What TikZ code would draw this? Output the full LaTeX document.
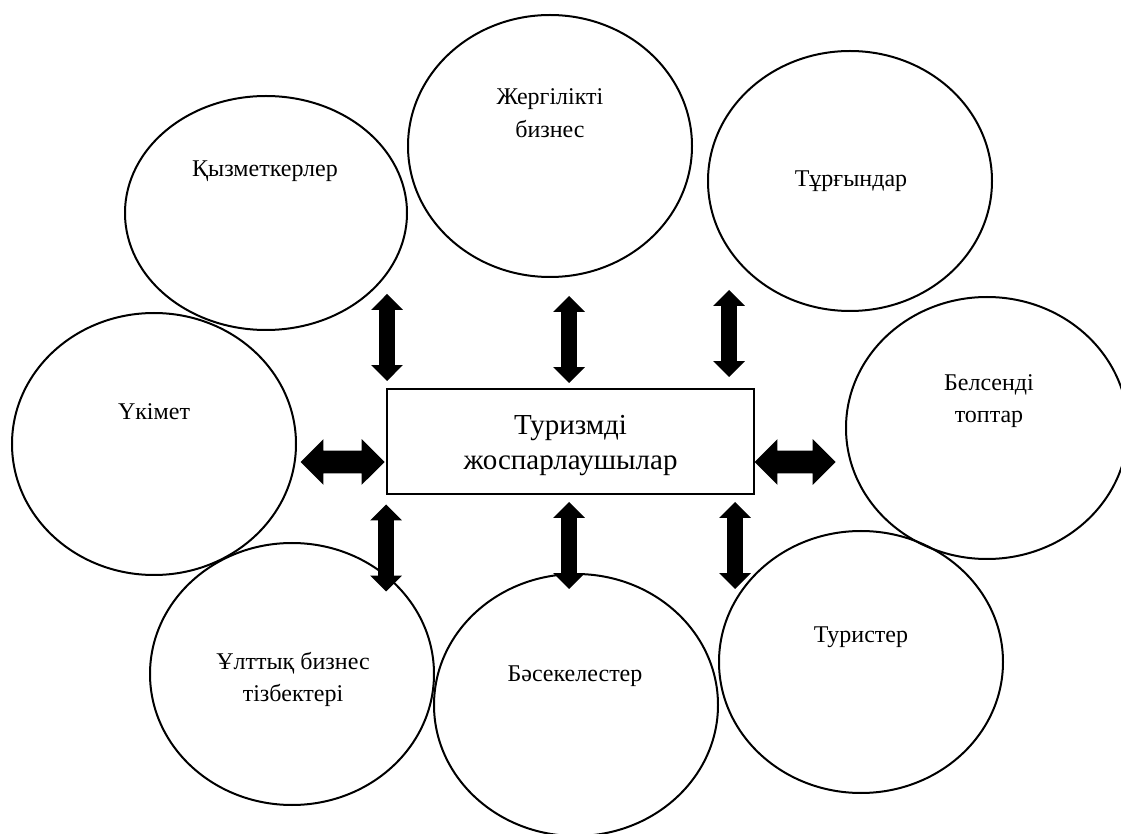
\documentclass[tikz,border=0pt]{standalone}
\usepackage{fontspec}
\setmainfont{Liberation Serif}
\usepackage{tikz}
\usetikzlibrary{shapes.geometric,shapes.arrows}
\tikzset{
  party/.style={draw,ellipse,line width=1pt,inner sep=0pt,minimum width=142pt,minimum height=131pt},
  partytext/.style={align=center,inner sep=0pt,anchor=base,font=\fontsize{12pt}{16.5pt}\selectfont},
  hub/.style={draw,rectangle,line width=1pt,minimum width=183.5pt,minimum height=52.5pt},
  hubtext/.style={align=center,inner sep=0pt,anchor=base,font=\fontsize{14.5pt}{17.5pt}\selectfont},
  vlink/.style={double arrow,fill=black,inner sep=3.75pt,rotate=90,minimum height=43.5pt,minimum width=15.5pt,double arrow head extend=4pt,double arrow head indent=0pt},
  hlink/.style={double arrow,fill=black,inner sep=5.5pt,minimum height=42pt,minimum width=22.5pt,double arrow head extend=5.75pt,double arrow head indent=0pt}
}
\begin{document}
\begin{tikzpicture}[x=0.5pt,y=-0.5pt]
\useasboundingbox (0,0) rectangle (1121,834);
\node[party,minimum width=141pt,minimum height=117pt] (staff) at (266,213) {};
\node[party] (localbiz) at (550,146) {};
\node[party,minimum height=130pt] (residents) at (850,181) {};
\node[party,minimum width=141pt] (activists) at (987,428) {};
\node[party] (gov) at (154,444) {};
\node[party] (chains) at (292,674) {};
\node[party] (rivals) at (576,705) {};
\node[party] (tourists) at (861,662) {};
\node[partytext] (staffText) at (265,177) {Қызметкерлер};
\node[partytext] (localbizText) at (550,138) {Жергілікті\\бизнес};
\node[partytext] (residentsText) at (851,187) {Тұрғындар};
\node[partytext] (activistsText) at (989,423) {Белсенді\\топтар};
\node[partytext] (govText) at (154,420) {Үкімет};
\node[partytext] (chainsText) at (293,702) {Ұлттық бизнес\\тізбектері};
\node[partytext] (rivalsText) at (575,682) {Бәсекелестер};
\node[partytext] (touristsText) at (861,643) {Туристер};
\node[hub] (planners) at (570.5,441.5) {};
\node[hubtext] (plannersText) at (570.5,470) {Туризмді\\жоспарлаушылар};
\node[vlink] (linkStaff) at (387,337.5) {};
\node[vlink] (linkLocal) at (569,339.5) {};
\node[vlink] (linkResid) at (729,333.5) {};
\node[hlink] (linkGov) at (342.5,462) {};
\node[hlink,minimum height=40.5pt] (linkAct) at (795,462) {};
\node[vlink] (linkChains) at (386,548) {};
\node[vlink] (linkRivals) at (569,545.5) {};
\node[vlink] (linkTour) at (735,545.5) {};
\end{tikzpicture}
\end{document}
